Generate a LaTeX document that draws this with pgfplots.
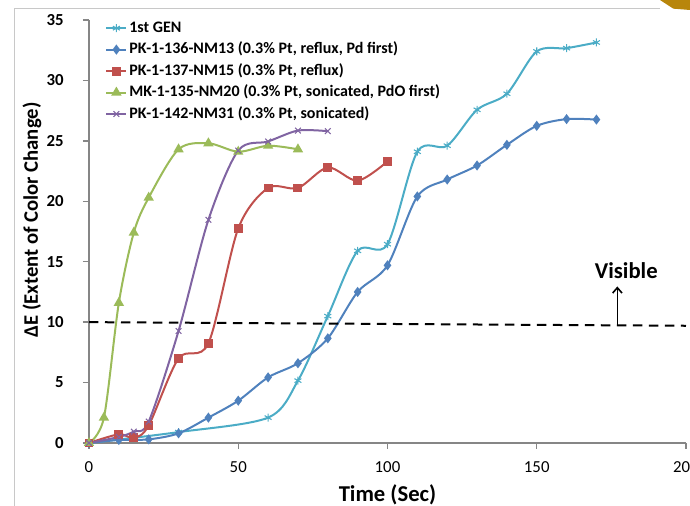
\documentclass[border=0pt]{standalone}
\usepackage{pgfplots}
\pgfplotsset{compat=1.18}
\usepackage{fontspec}
\setmainfont{Carlito}
\usetikzlibrary{arrows.meta}
\definecolor{cGen}{HTML}{4BACC6}
\definecolor{cBlue}{HTML}{4F81BD}
\definecolor{cRed}{HTML}{C0504D}
\definecolor{cGreen}{HTML}{9BBB59}
\definecolor{cPurple}{HTML}{8064A2}
\definecolor{axisgray}{HTML}{868686}
\definecolor{framegray}{HTML}{C8C8C8}
\definecolor{gold}{HTML}{B8860B}
\begin{document}
\begin{tikzpicture}[x=1pt,y=1pt]
\begin{axis}[
  at={(66.75pt,47.25pt)}, anchor=south west,
  width=447.75pt, height=317.25pt, scale only axis,
  xmin=0, xmax=200, ymin=0, ymax=35,
  xtick={0,50,...,200}, ytick={0,5,...,35},
  axis x line=bottom, axis y line=left,
  axis line style={-, draw=axisgray, line width=1.5pt},
  tick align=outside, major tick length=4.5pt,
  tick style={draw=axisgray, line width=1pt},
  clip=false,
  /pgf/number format/assume math mode=true,
  xticklabel style={font=\fontsize{12.6}{14}\selectfont, yshift=-6pt},
  yticklabel style={font=\bfseries\fontsize{12.6}{14}\selectfont, xshift=-11pt},
  xlabel={Time (Sec)},
  ylabel={ΔE (Extent of Color Change)},
  xlabel style={font=\bfseries\fontsize{17}{19}\selectfont, at={(axis description cs:0.5,-0.123)}, anchor=center},
  ylabel style={font=\bfseries\fontsize{15.5}{18}\selectfont, at={(axis description cs:-0.0955,0.527)}, anchor=center},
  legend cell align=left,
  legend style={at={(axis description cs:0.027,1.005)}, anchor=north west, draw=none, fill=none,
    font=\bfseries\fontsize{12}{14}\selectfont, inner sep=0pt, row sep=1.1pt,
    nodes={text height=9pt, text depth=3pt, inner sep=1.5pt}},
  legend image code/.code={\draw[mark repeat=2,mark phase=2] plot coordinates {(0pt,0pt) (7.5pt,0pt) (15pt,0pt)};},
  every axis plot/.append style={line width=1.5pt, smooth},
]
\addplot[color=cGen, mark=asterisk, mark size=3pt, mark options={solid, line width=0.8pt}]
  coordinates {(0,0) (30,0.9) (60,2.1) (70,5.16) (80,10.5) (90,15.9) (100,16.45) (110,24.1) (120,24.6) (130,27.57) (140,28.9) (150,32.4) (160,32.67) (170,33.14)};
\addlegendentry{1st GEN}
\addplot[color=cBlue, mark=diamond*, mark size=2.6pt, mark options={solid}]
  coordinates {(0,0) (10,0.25) (20,0.3) (30,0.8) (40,2.1) (50,3.5) (60,5.43) (70,6.6) (80,8.66) (90,12.5) (100,14.7) (110,20.4) (120,21.8) (130,22.96) (140,24.67) (150,26.24) (160,26.8) (170,26.76)};
\addlegendentry{PK-1-136-NM13 (0.3\% Pt, reflux, Pd first)}
\addplot[color=cRed, mark=square*, mark size=2.6pt, mark options={solid}]
  coordinates {(0,0) (10,0.72) (15,0.42) (20,1.45) (30,7.0) (40,8.25) (50,17.75) (60,21.1) (70,21.1) (80,22.8) (90,21.7) (100,23.3)};
\addlegendentry{PK-1-137-NM15 (0.3\% Pt, reflux)}
\addplot[color=cGreen, mark=triangle*, mark size=3pt, mark options={solid}]
  coordinates {(0,0) (5,2.1) (10,11.6) (15,17.4) (20,20.3) (30,24.3) (40,24.8) (50,24.1) (60,24.6) (70,24.3)};
\addlegendentry{MK-1-135-NM20 (0.3\% Pt, sonicated, PdO first)}
\addplot[color=cPurple, mark=x, mark size=3pt, mark options={solid, line width=0.8pt}]
  coordinates {(0,0) (10,0.5) (15,0.94) (20,1.77) (30,9.27) (40,18.46) (50,24.2) (60,24.95) (70,25.85) (80,25.8)};
\addlegendentry{PK-1-142-NM31 (0.3\% Pt, sonicated)}
\addplot[black, line width=1.5pt, dash pattern=on 7pt off 5pt, sharp plot, mark=none, forget plot]
  coordinates {(0,10) (200,9.7)};
\addplot[black, line width=1.2pt, sharp plot, mark=none, -{Straight Barb[length=4pt,width=7pt]}, forget plot]
  coordinates {(177,9.75) (177,12.95)};
\node[font=\bfseries\fontsize{17}{20}\selectfont] at (axis cs:180,14.3) {Visible};
\end{axis}
\draw[framegray, line width=0.75pt] (10.5pt,0pt) -- (10.5pt,372.75pt) -- (495pt,372.75pt);
\fill[gold] (495pt,379.5pt) -- (517.5pt,379.5pt) -- (517.5pt,372pt) -- (505pt,373pt) -- cycle;
\pgfresetboundingbox
\path[use as bounding box] (0pt,0pt) rectangle (517.5pt,379.5pt);
\end{tikzpicture}
\end{document}
